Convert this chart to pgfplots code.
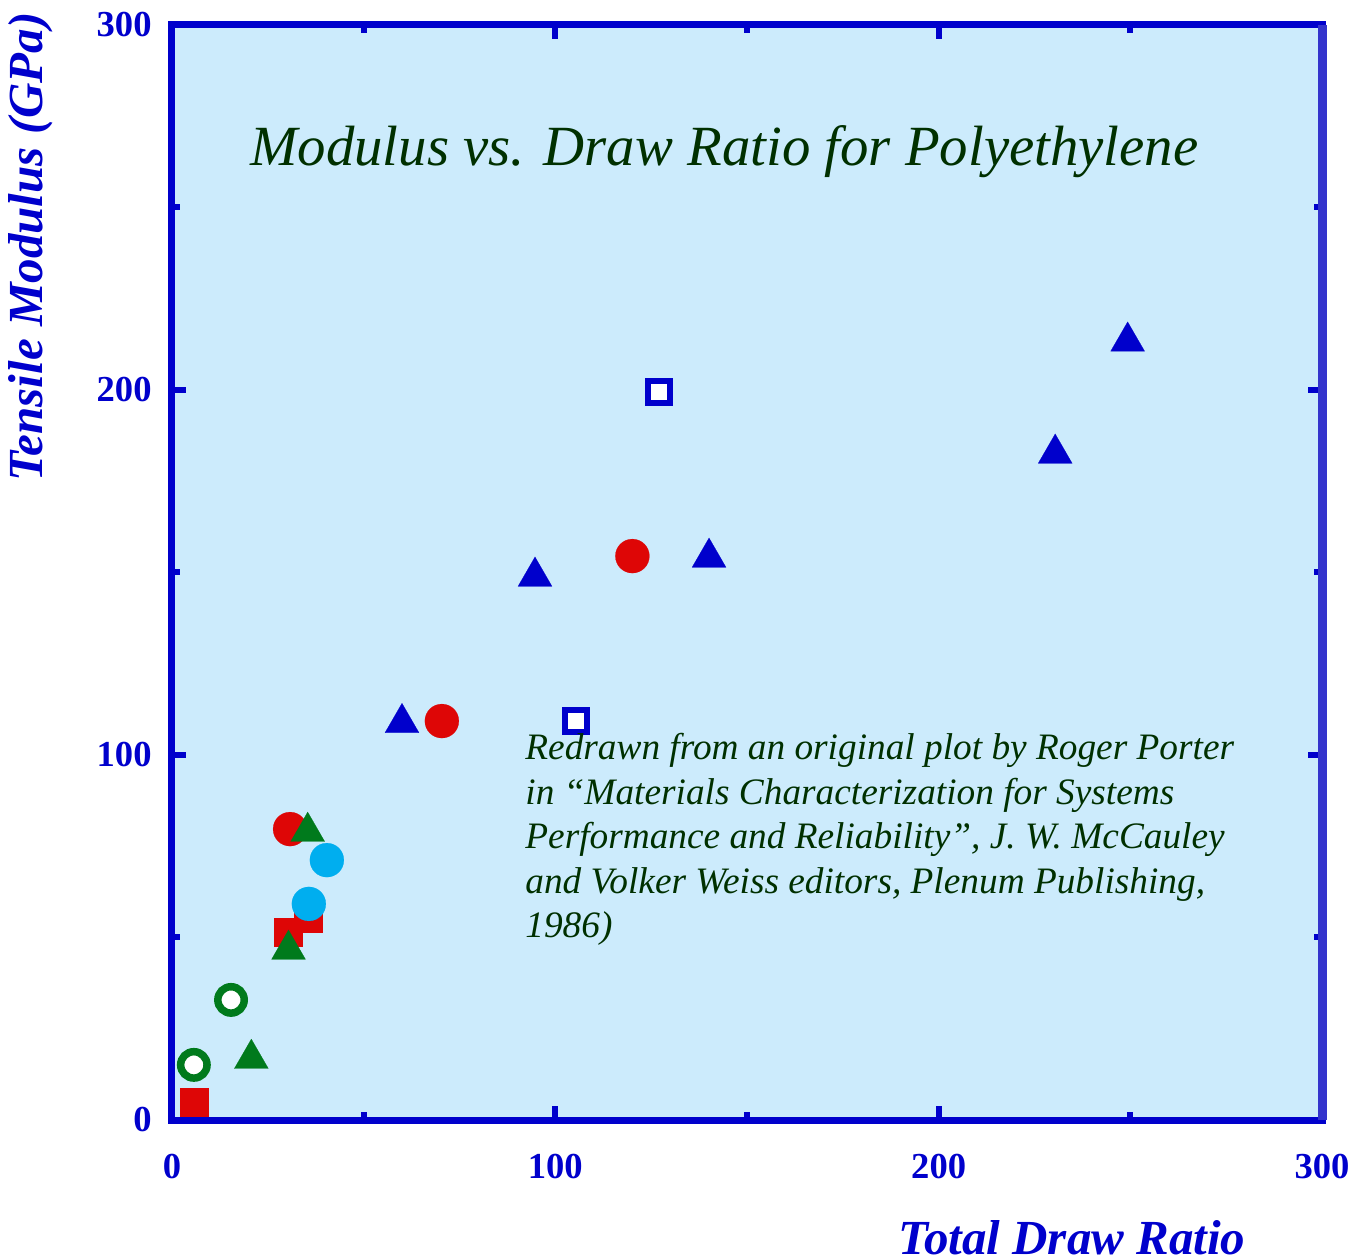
\documentclass[border=0pt]{standalone}
\usepackage{pgfplots}
\pgfplotsset{compat=1.18}
\usepackage{fontspec}
\setmainfont{Liberation Serif}
\definecolor{bgblue}{RGB}{204,235,252}
\definecolor{axblue}{RGB}{0,0,204}
\definecolor{axblue2}{RGB}{51,51,204}
\definecolor{mred}{RGB}{222,6,6}
\definecolor{mgreen}{RGB}{0,122,28}
\definecolor{mcyan}{RGB}{0,174,239}
\definecolor{txtgreen}{RGB}{0,48,0}
\begin{document}
\begin{tikzpicture}
\begin{axis}[
  name=ax, at={(0,0)}, anchor=south west,
  scale only axis, width=575pt, height=547.5pt,
  xmin=0, xmax=300, ymin=0, ymax=300,
  xtick={0,100,200,300}, ytick={0,100,200,300},
  minor tick num=1,
  tick align=inside,
  major tick length=7pt, minor tick length=4pt,
  tick style={axblue, line width=3pt},
  axis line style={axblue, line width=3.5pt},
  axis background/.style={fill=bgblue},
  /pgf/number format/assume math mode=true,
  ticklabel style={font=\bfseries\fontsize{18.3}{20}\selectfont, text=axblue, inner sep=0pt},
  xticklabel style={anchor=north, yshift=-17pt},
  yticklabel style={anchor=east, xshift=-10pt},
  clip=false,
  only marks,
]
% red squares
\addplot[color=mred, mark=square*, mark size=7pt, mark options={fill=mred, draw=mred, line width=0.1pt}] coordinates {(5.7,5.0) (30.4,51.5) (35.4,55.2)};
% red circles
\addplot[color=mred, mark=*, mark size=8.5pt, mark options={fill=mred, draw=mred, line width=0.1pt}] coordinates {(30.8,79.7) (70.4,109.3) (120.1,154.5)};
% blue triangles
\addplot[color=axblue, mark=triangle*, mark size=9.8pt, mark options={fill=axblue, draw=axblue, line width=0.1pt}] coordinates {(60.0,108.8) (94.7,148.9) (140.1,154.1) (230.4,182.6) (249.3,213.3)};
% blue open squares
\addplot[color=axblue, mark=square*, mark size=5.5pt, mark options={fill=white, draw=axblue, line width=3pt}] coordinates {(105.5,109.3) (127.1,199.5)};
% green triangles
\addplot[color=mgreen, mark=triangle*, mark size=9.8pt, mark options={fill=mgreen, draw=mgreen, line width=0.1pt}] coordinates {(35.4,79.0) (30.4,46.7) (20.7,16.8)};
% green open circles
\addplot[color=mgreen, mark=*, mark size=6.6pt, mark options={fill=white, draw=mgreen, line width=3.75pt}] coordinates {(15.4,32.9) (5.7,15.1)};
% cyan circles
\addplot[color=mcyan, mark=*, mark size=8.5pt, mark options={fill=mcyan, draw=mcyan, line width=0.1pt}] coordinates {(40.4,71.2) (35.7,59.2)};
\end{axis}
\draw[axblue2, line width=4.5pt] (ax.south east) -- (ax.north east);
\node[anchor=base, font=\itshape\fontsize{28.4}{34}\selectfont, text=txtgreen, inner sep=0pt] at (276.25pt,477pt) {Modulus vs. Draw Ratio for Polyethylene};
\begin{scope}[every node/.style={anchor=base west, font=\itshape\fontsize{18.66}{22}\selectfont, text=txtgreen, inner sep=0pt}]
\node at (176.5pt,180pt) {Redrawn from an original plot by Roger Porter};
\node at (176.5pt,157.75pt) {in “Materials Characterization for Systems};
\node at (176.5pt,135.5pt) {Performance and Reliability”, J. W. McCauley};
\node at (176.5pt,113.25pt) {and Volker Weiss editors, Plenum Publishing,};
\node at (176.5pt,91pt) {1986)};
\end{scope}
\node[anchor=base, font=\bfseries\itshape\fontsize{24.5}{28}\selectfont, text=axblue, inner sep=0pt] at (450pt,-67pt) {Total Draw Ratio};
\node[rotate=90, anchor=base, font=\bfseries\itshape\fontsize{24.5}{28}\selectfont, text=axblue, inner sep=0pt] at (-64.5pt,436.5pt) {Tensile Modulus (GPa)};
\pgfresetboundingbox
\useasboundingbox (-86pt,-69.5pt) rectangle (589pt,560pt);
\end{tikzpicture}
\end{document}
